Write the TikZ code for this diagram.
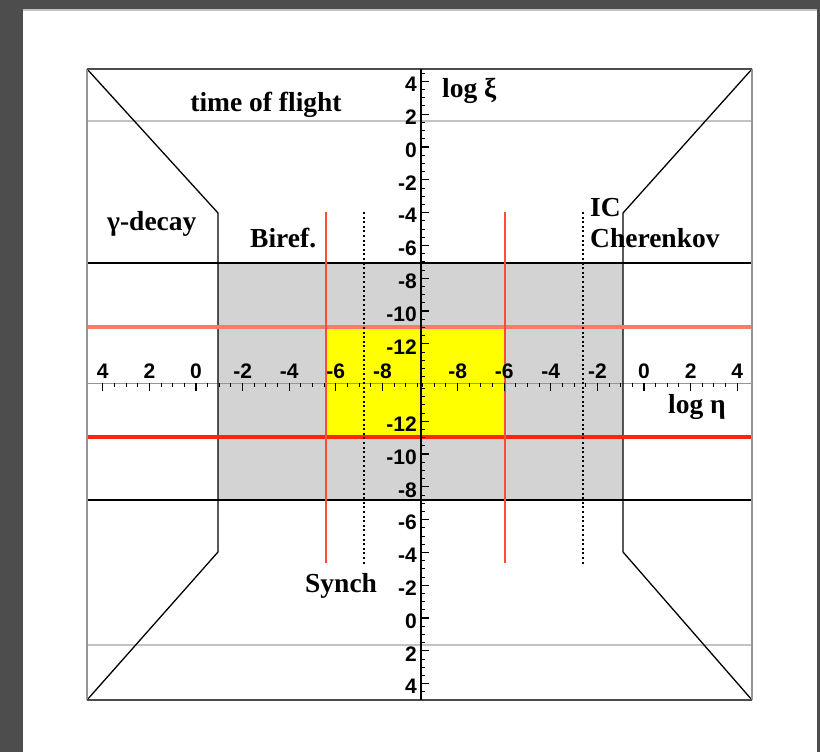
\documentclass[tikz,border=0pt]{standalone}
\usepackage{fontspec}
\setmainfont{Liberation Serif}
\newfontfamily\axisfont{Liberation Sans}
\definecolor{bgdark}{RGB}{77,77,77}
\definecolor{boxgray}{RGB}{211,211,211}
\definecolor{lightred}{RGB}{255,120,110}
\definecolor{strongred}{RGB}{255,35,20}
\definecolor{vred}{RGB}{255,75,55}
\definecolor{framegray}{RGB}{150,150,150}
\definecolor{linegray}{RGB}{195,195,195}
\definecolor{brightyellow}{RGB}{255,255,0}
\begin{document}
\begin{tikzpicture}[x=1pt,y=-1pt,
  numlab/.style={font=\axisfont\bfseries\fontsize{21}{21}\selectfont, inner sep=0pt},
  txtlab/.style={font=\bfseries\fontsize{27.5}{27.5}\selectfont, inner sep=0pt},
  blackline/.style={draw=black, line width=1.3pt},
  grayline/.style={draw=linegray, line width=1.8pt},
  redvert/.style={draw=vred, line width=2.6pt},
  dotline/.style={draw=black, line width=1.8pt, dash pattern=on 2pt off 2.6pt},
  majortick/.style={draw=black, line width=1.2pt},
  minortick/.style={draw=black, line width=1pt}]
\useasboundingbox (0,0) rectangle (820,752);
\fill[bgdark] (0,0) rectangle (820,752);
\fill[white] (23,9) rectangle (817,752);
\draw[linegray, line width=2pt] (23,10) -- (817,10);
% shaded regions
\fill[boxgray] (218,263) rectangle (623,500);
\fill[brightyellow] (326,327) rectangle (505,437);
% light gray horizontal lines
\draw[grayline] (87,121) -- (752,121);
\draw[grayline] (87,645) -- (752,645);
% black horizontal lines
\draw[blackline] (87,263) -- (752,263);
\draw[blackline] (87,500) -- (752,500);
% horizontal axis line
\draw[framegray, line width=0.9pt] (87,383) -- (752,383);
% boundary polylines
\coordinate (tl) at (87,69);
\coordinate (tr) at (752,69);
\coordinate (bl) at (87,700);
\coordinate (br) at (752,700);
\draw[blackline] (tl) -- (218,213) -- (218,552) -- (bl);
\draw[blackline] (tr) -- (623,213) -- (623,552) -- (br);
% red horizontals
\draw[lightred, line width=3.5pt] (87,327) -- (752,327);
\draw[strongred, line width=3.8pt] (87,437) -- (752,437);
% red verticals
\draw[redvert] (326,212) -- (326,563);
\draw[redvert] (505,212) -- (505,563);
% dotted verticals
\draw[dotline] (364,212) -- (364,565);
\draw[dotline] (583,212) -- (583,565);
% frame
\draw[framegray, line width=1.6pt] (tl) -- (bl);
\draw[framegray, line width=1.6pt] (tr) -- (br);
\draw[black!70, line width=1.6pt] (tl) -- (tr);
\draw[black!70, line width=1.6pt] (bl) -- (br);
% vertical axis
\draw[black, line width=2pt] (421,69) -- (421,700);
% vertical axis ticks (top half)
\foreach \v in {4.5,4,...,-14}{
  \pgfmathsetmacro{\yy}{147-16.4*\v}
  \draw[minortick] (421,\yy) -- (425,\yy);
}
\foreach \v in {4,2,...,-12}{
  \pgfmathsetmacro{\yy}{147-16.4*\v}
  \draw[majortick] (421,\yy) -- (429,\yy);
  \node[numlab, anchor=east] (vt\v) at (417,\yy+3) {\v};
}
% vertical axis ticks (bottom half)
\foreach \v in {-14,-13.5,...,4.5}{
  \pgfmathsetmacro{\yy}{618+16.4*\v}
  \draw[minortick] (421,\yy) -- (425,\yy);
}
\foreach \v in {-12,-10,...,4}{
  \pgfmathsetmacro{\yy}{618+16.4*\v}
  \draw[majortick] (421,\yy) -- (429,\yy);
  \node[numlab, anchor=east] (vb\v) at (417,\yy+3) {\v};
}
% horizontal axis ticks (left)
\foreach \v in {4,3.5,...,-9.5}{
  \pgfmathsetmacro{\xx}{196-23.3*\v}
  \draw[minortick] (\xx,383) -- (\xx,387);
}
\foreach \v in {4,2,...,-8}{
  \pgfmathsetmacro{\xx}{196-23.3*\v}
  \draw[majortick] (\xx,383) -- (\xx,391);
  \node[numlab, anchor=base] (hl\v) at (\xx,378) {\v};
}
% horizontal axis ticks (right)
\foreach \v in {-9.5,-9,...,4}{
  \pgfmathsetmacro{\xx}{644+23.3*\v}
  \draw[minortick] (\xx,383) -- (\xx,387);
}
\foreach \v in {-8,-6,...,4}{
  \pgfmathsetmacro{\xx}{644+23.3*\v}
  \draw[majortick] (\xx,383) -- (\xx,391);
  \node[numlab, anchor=base] (hr\v) at (\xx,378) {\v};
}
% text labels
\node[txtlab, anchor=base] (tof) at (266,112) {time of flight};
\node[txtlab, anchor=base west] (gam) at (107,230) {γ-decay};
\node[txtlab, anchor=base west] (bir) at (250,247) {Biref.};
\node[txtlab, anchor=base west] (ic) at (590,216) {IC};
\node[txtlab, anchor=base west] (cher) at (590,247) {Cherenkov};
\node[txtlab, anchor=base west] (syn) at (305,592) {Synch};
\node[txtlab, anchor=base west] (lxi) at (442,98) {log ξ};
\node[txtlab, anchor=base west] (leta) at (668,413) {log η};
\end{tikzpicture}
\end{document}
